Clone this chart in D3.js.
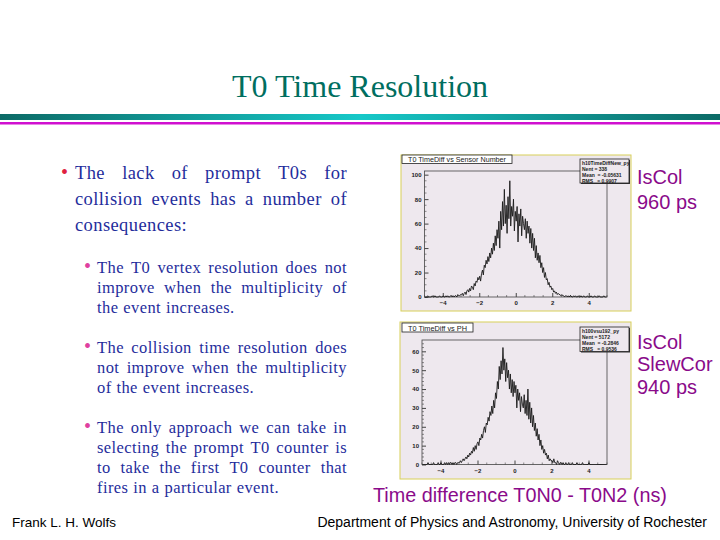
<!DOCTYPE html>
<html lang="en">
<head>
<meta charset="UTF-8">
<title>T0 Time Resolution</title>
<script src="https://d3js.org/d3.v7.min.js"></script>
<style>
body { margin: 0; background: #fff; }
svg { display: block; }
.serif { font-family: "Liberation Serif", "Times New Roman", serif; }
.sans { font-family: "Liberation Sans", Arial, sans-serif; }
.root { font-family: "Liberation Sans", Arial, sans-serif; font-weight: bold; fill: #222; }
</style>
</head>
<body>
<div id="slide"></div>
<script>
// bin centres, width 0.05, from -4.975 to 4.975
var binCentres = d3.range(200).map(function(i) { return -4.975 + i * 0.05; });

// T0 TimeDiff vs Sensor Number (IsCol)
var countsSensor = [
  0,0,0,1,0,0,0,0,1,0, 0,1,0,0,0,0,1,0,0,0, 1,0,0,1,0,1,0,0,1,1, 0,1,0,1,1,0,2,1,1,2,
  2,3,1,3,4,2,5,6,4,7, 5,9,8,6,11,9,13,12,16,14,
  17,13,19,22,18,26,24,30,27,33, 29,36,32,40,35,44,38,50,42,55,
  48,62,40,70,55,78,58,88,60,75, 52,82,64,95,58,74,66,80,54,70,
  62,74,45,68,58,72,50,66,60,55, 64,48,62,52,58,44,56,40,52,38,
  48,32,42,30,36,28,34,24,28,20, 24,16,20,14,15,10,12,8,9,6,
  7,4,5,3,4,2,3,2,2,1, 2,1,1,0,1,1,0,1,0,1,
  1,0,0,1,0,1,0,0,1,0, 0,1,0,0,1,0,0,0,1,0, 0,0,1,0,0,0,1,0,0,0, 0,1,0,0,0,0,1,0,0,0
];

// T0 TimeDiff vs PH (IsCol SlewCor)
var countsPH = [
  0,0,0,0,0,0,1,0,0,0, 0,0,1,0,0,0,0,1,0,0, 1,0,0,0,1,0,1,0,1,0, 1,1,0,1,0,1,1,0,1,1,
  1,2,1,2,3,2,3,4,3,5, 4,6,5,7,6,9,7,10,8,11,
  12,10,14,13,16,14,18,20,17,22, 21,25,23,28,26,31,27,34,30,38,
  35,44,40,52,45,55,48,62,50,56, 44,54,46,50,40,48,38,45,36,44,
  38,42,30,40,34,38,28,36,32,30, 37,27,34,26,40,24,33,22,30,20,
  26,18,22,15,19,13,16,10,13,8, 10,6,8,5,6,3,5,2,3,2,
  2,1,3,1,1,0,2,1,0,1, 1,0,1,0,0,1,0,0,1,0,
  0,0,1,0,0,0,0,1,0,0, 0,0,0,1,0,0,0,0,0,0, 1,0,0,0,0,0,0,0,0,0, 0,0,0,0,0,0,0,0,0,0
];

var xTicks = [-4, -2, 0, 2, 4];
var yTicksSensor = [0, 20, 40, 60, 80, 100];
var yTicksPH = [0, 10, 20, 30, 40, 50, 60];

var statsSensor = ["h10TimeDiffNew_py", "Nent = 338", "Mean  = -0.05631", "RMS   = 0.9907"];
var statsPH = ["h100vsu192_py", "Nent = 5172", "Mean  = -0.2846", "RMS   = 0.9536"];

var svg = d3.select("#slide").append("svg")
    .attr("width", 720)
    .attr("height", 540);

// title and rules
svg.append("text")
    .attr("class", "serif")
    .attr("x", 360).attr("y", 97)
    .attr("text-anchor", "middle")
    .attr("font-size", 32)
    .attr("fill", "#006e60")
    .text("T0 Time Resolution");

var grad = svg.append("defs").append("linearGradient").attr("id", "teal");
grad.append("stop").attr("offset", "0%").attr("stop-color", "#0c6a66");
grad.append("stop").attr("offset", "50%").attr("stop-color", "#16c8c8");
grad.append("stop").attr("offset", "100%").attr("stop-color", "#0c6a66");
svg.append("rect").attr("x", 0).attr("y", 114).attr("width", 720).attr("height", 6).attr("fill", "url(#teal)");
svg.append("rect").attr("x", 0).attr("y", 122).attr("width", 720).attr("height", 2.5).attr("fill", "#d010d0");

// justified text lines
function textLine(words, x0, x1, y, size, justify) {
  var g = svg.append("g");
  var nodes = words.map(function(w) {
    return g.append("text").attr("class", "serif")
      .attr("y", y).attr("font-size", size)
      .attr("fill", "#1f2d9c")
      .attr("letter-spacing", 0.4)
      .text(w);
  });
  var widths = nodes.map(function(n) { return n.node().getComputedTextLength(); });
  var total = d3.sum(widths);
  var gap = justify && words.length > 1 ? (x1 - x0 - total) / (words.length - 1) : size * 0.3;
  var x = x0;
  nodes.forEach(function(n, i) { n.attr("x", x); x += widths[i] + gap; });
}
function bullet(x, y, size, colour) {
  svg.append("text").attr("class", "serif").attr("x", x).attr("y", y)
    .attr("font-size", size).attr("fill", colour).text("\u2022");
}

bullet(61, 179, 20, "#e02040");
textLine("The lack of prompt T0s for".split(" "), 75, 347, 179, 18.5, true);
textLine("collision events has a number of".split(" "), 75, 347, 205, 18.5, true);
textLine(["consequences:"], 75, 347, 231, 18.5, false);

var subs = [
  [["The T0 vertex resolution does not", true], ["improve when the multiplicity of", true], ["the event increases.", false]],
  [["The collision time resolution does", true], ["not improve when the multiplicity", true], ["of the event increases.", false]],
  [["The only approach we can take in", true], ["selecting the prompt T0 counter is", true], ["to take the first T0 counter that", true], ["fires in a particular event.", false]]
];
var subTops = [273, 353, 433];
subs.forEach(function(lines, k) {
  bullet(84, subTops[k], 20, "#e040a0");
  lines.forEach(function(l, j) {
    textLine(l[0].split(" "), 97, 347, subTops[k] + j * 20, 16.5, l[1]);
  });
});

// purple labels
function purple(x, y, size, txt) {
  svg.append("text").attr("class", "sans").attr("x", x).attr("y", y)
    .attr("font-size", size).attr("fill", "#8a0a8a").text(txt);
}
purple(637, 184, 20, "IsCol");
purple(637, 209, 20, "960 ps");
purple(637, 349, 20, "IsCol");
purple(637, 371, 20, "SlewCor");
purple(637, 394, 20, "940 ps");
purple(373, 502, 19.8, "Time difference T0N0 - T0N2 (ns)");

svg.append("text").attr("class", "sans").attr("x", 12).attr("y", 527)
  .attr("font-size", 13.5).attr("fill", "#000").text("Frank L. H. Wolfs");
svg.append("text").attr("class", "sans").attr("x", 707).attr("y", 527)
  .attr("text-anchor", "end").attr("font-size", 14).attr("fill", "#000")
  .text("Department of Physics and Astronomy, University of Rochester");

// ROOT-style histogram pad
function histPad(p) {
  var g = svg.append("g");
  g.append("rect").attr("x", p.pad[0]).attr("y", p.pad[1])
    .attr("width", p.pad[2] - p.pad[0]).attr("height", p.pad[3] - p.pad[1])
    .attr("fill", "#eee8ee").attr("stroke", "#d8d058").attr("stroke-width", 1);

  var x = d3.scaleLinear().domain([-5, 5]).range([p.frame[0], p.frame[2]]);
  var y = d3.scaleLinear().domain([0, p.ymax]).range([p.frame[3], p.frame[1]]);

  g.append("rect").attr("x", p.frame[0]).attr("y", p.frame[1])
    .attr("width", p.frame[2] - p.frame[0]).attr("height", p.frame[3] - p.frame[1])
    .attr("fill", "none").attr("stroke", "#444").attr("stroke-width", 0.8);

  // y axis, ticks pointing inwards
  var ya = g.append("g").attr("transform", "translate(" + p.frame[0] + ",0)")
    .call(d3.axisRight(y).tickValues(p.yTicks).tickSize(4).tickFormat(d3.format("d")));
  ya.select(".domain").remove();
  ya.selectAll("line").attr("stroke", "#444");
  ya.selectAll("text").attr("class", "root").style("font-size", "6px")
    .attr("x", -3).attr("text-anchor", "end");
  var minorY = d3.range(0, p.ymax, p.yMinor).filter(function(v) { return p.yTicks.indexOf(v) < 0; });
  g.selectAll(".my").data(minorY).enter().append("line")
    .attr("x1", p.frame[0]).attr("x2", p.frame[0] + 2)
    .attr("y1", function(d) { return y(d); }).attr("y2", function(d) { return y(d); })
    .attr("stroke", "#444").attr("stroke-width", 0.6);

  // x axis, ticks pointing inwards
  var xa = g.append("g").attr("transform", "translate(0," + p.frame[3] + ")")
    .call(d3.axisTop(x).tickValues(xTicks).tickSize(4).tickFormat(d3.format("d")));
  xa.select(".domain").remove();
  xa.selectAll("line").attr("stroke", "#444");
  xa.selectAll("text").attr("class", "root").style("font-size", "6px").attr("y", 8).attr("dy", 0);
  var minorX = d3.range(-5, 5.01, 0.5).filter(function(v) { return xTicks.indexOf(v) < 0; });
  g.selectAll(".mx").data(minorX).enter().append("line")
    .attr("x1", function(d) { return x(d); }).attr("x2", function(d) { return x(d); })
    .attr("y1", p.frame[3]).attr("y2", p.frame[3] - 2)
    .attr("stroke", "#444").attr("stroke-width", 0.6);

  // histogram
  var pts = binCentres.map(function(c, i) { return [c, p.counts[i]]; });
  g.append("path").datum(pts)
    .attr("fill", "none").attr("stroke", "#1a1a1a").attr("stroke-width", 0.9)
    .attr("stroke-linejoin", "bevel")
    .attr("d", d3.line().x(function(d) { return x(d[0]); }).y(function(d) { return y(d[1]); }));

  // title box
  var tw = p.title[2] - p.title[0];
  g.append("rect").attr("x", p.title[0]).attr("y", p.title[1])
    .attr("width", tw).attr("height", p.title[3] - p.title[1])
    .attr("fill", "#fff").attr("stroke", "#222").attr("stroke-width", 0.8);
  g.append("text").attr("class", "root").style("font-size", "7.5px").style("font-weight", "normal")
    .attr("x", p.title[0] + 6).attr("y", p.title[3] - 1.5)
    .attr("textLength", tw - 12).attr("lengthAdjust", "spacingAndGlyphs")
    .text(p.name);

  // stats box
  var s = p.stats;
  g.append("rect").attr("x", s[0] + 1).attr("y", s[1] + 1).attr("width", s[2] - s[0]).attr("height", s[3] - s[1]).attr("fill", "#333");
  g.append("rect").attr("x", s[0]).attr("y", s[1]).attr("width", s[2] - s[0]).attr("height", s[3] - s[1])
    .attr("fill", "#eee8ee").attr("stroke", "#222").attr("stroke-width", 0.8);
  p.statLines.forEach(function(t, i) {
    g.append("text").attr("class", "root").style("font-size", "5px")
      .attr("xml:space", "preserve")
      .attr("x", s[0] + 2).attr("y", s[1] + 6 + i * 6).text(t);
  });
}

histPad({
  pad: [401, 155, 631, 311], frame: [424.5, 171, 607, 297], title: [402, 155, 512, 163.5],
  stats: [580, 159, 629, 183], ymax: 103, yTicks: yTicksSensor, yMinor: 5,
  counts: countsSensor, name: "T0 TimeDiff vs Sensor Number", statLines: statsSensor
});
histPad({
  pad: [400, 322, 631, 479], frame: [422, 340, 607, 464.5], title: [402, 323, 473, 332],
  stats: [580, 327, 629, 351.5], ymax: 66, yTicks: yTicksPH, yMinor: 2,
  counts: countsPH, name: "T0 TimeDiff vs PH", statLines: statsPH
});
</script>
</body>
</html>
